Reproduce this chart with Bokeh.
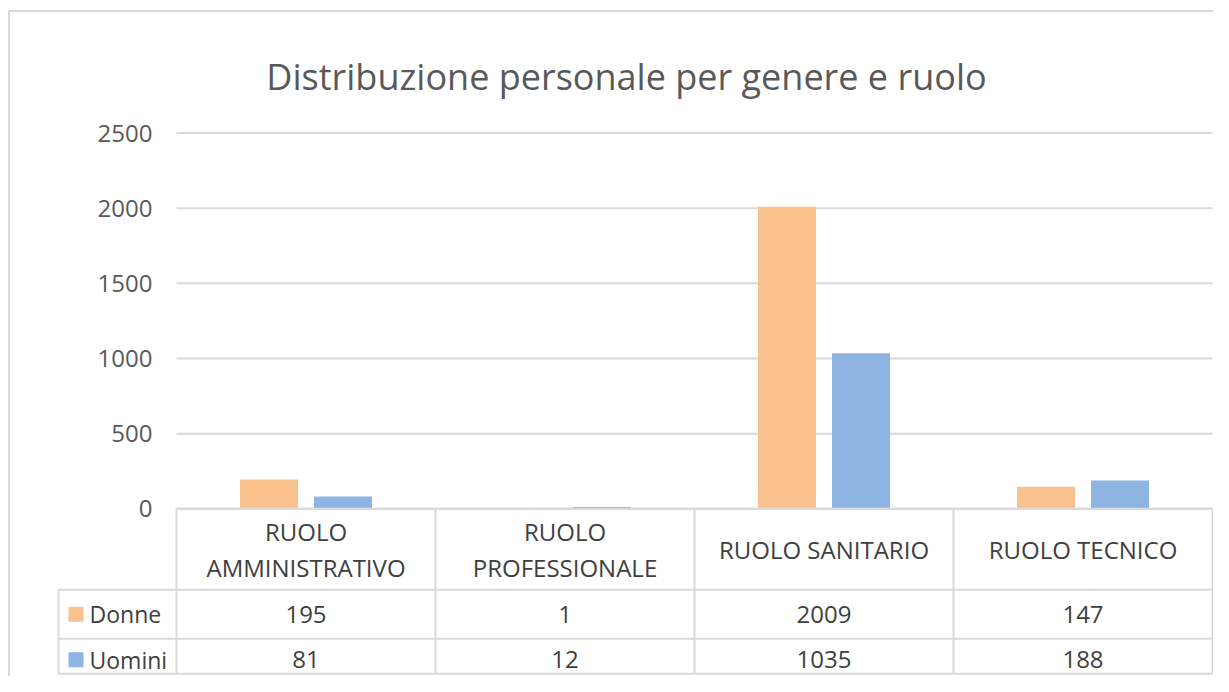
from bokeh.plotting import figure
from bokeh.models import Range1d, ColumnDataSource
from bokeh.core.properties import value
from bokeh.embed import file_html
from bokeh.resources import INLINE

# ---------------- data ----------------
chart_title = "Distribuzione personale per genere e ruolo"
categories = ["RUOLO\nAMMINISTRATIVO", "RUOLO\nPROFESSIONALE", "RUOLO SANITARIO", "RUOLO TECNICO"]
series_names = ["Donne", "Uomini"]
donne = [195, 1, 2009, 147]
uomini = [81, 12, 1035, 188]
y_ticks = [0, 500, 1000, 1500, 2000, 2500]
series_colors = ["#F9C18E", "#8EB4E3"]

# ---------------- layout (pixels) ----------------
W, H = 1213, 676
PX_PER_CAT = 259.0          # width of one category slot
X_ORIGIN = 176.0            # canvas x where category 0 starts
PX_PER_UNIT = 0.15032       # vertical pixels per value unit
Y_ORIGIN = 508.3            # canvas y of value 0

def dx(px):  # pixel offset -> x data units
    return px / PX_PER_CAT

def dy(px):  # pixel offset -> y data units
    return px / PX_PER_UNIT

def cx(canvas_x):
    return (canvas_x - X_ORIGIN) / PX_PER_CAT

def cy(canvas_y):
    return (Y_ORIGIN - canvas_y) / PX_PER_UNIT

FONT = value("Open Sans")
GRID = "#d9d9d9"
TXT = "#595959"
TXT2 = "#404040"

p = figure(width=W, height=H, output_backend="svg", toolbar_location=None,
           x_range=Range1d(cx(0), cx(W)), y_range=Range1d(cy(H), cy(0)),
           x_axis_location=None, y_axis_location=None, min_border=0,
           outline_line_color=None, background_fill_color="white",
           border_fill_color="white")
p.xgrid.visible = False
p.ygrid.visible = False

n = len(categories)
centers = [i + 0.5 for i in range(n)]

# outer chart border (top and left are visible)
p.segment(x0=[cx(8.5), cx(8.5)], y0=[cy(10.5), cy(10.5)], x1=[cx(W), cx(8.5)], y1=[cy(10.5), cy(H)],
          line_color=GRID, line_width=2)

# title
p.text(x=[cx(626)], y=[cy(76)], text=[chart_title], text_font=FONT, text_font_size="36px",
       text_color=TXT, text_align="center", text_baseline="alphabetic")

# gridlines
p.segment(x0=[0] * len(y_ticks), y0=y_ticks, x1=[n] * len(y_ticks), y1=y_ticks,
          line_color=GRID, line_width=2)

# y tick labels
p.text(x=[cx(152)] * len(y_ticks), y=y_ticks, text=[str(t) for t in y_ticks],
       text_font=FONT, text_font_size="24px", text_color=TXT,
       text_align="right", text_baseline="middle")

# bars
bar_w = dx(58)
off = dx(37)
src = ColumnDataSource(dict(xd=[c - off for c in centers], xu=[c + off for c in centers],
                            donne=donne, uomini=uomini))
p.vbar(x="xd", top="donne", bottom=0, width=bar_w, source=src,
       fill_color=series_colors[0], line_color=None)
p.vbar(x="xu", top="uomini", bottom=0, width=bar_w, source=src,
       fill_color=series_colors[1], line_color=None)

# data table
hdr_bot = -dy(81)
row1_bot = -dy(130)
row2_bot = -dy(165)
leg_left = -dx(118)
# horizontal lines
p.segment(x0=[0, leg_left, leg_left, leg_left], y0=[0, hdr_bot, row1_bot, row2_bot],
          x1=[n, n, n, n], y1=[0, hdr_bot, row1_bot, row2_bot],
          line_color=GRID, line_width=2)
# vertical lines
vx = list(range(n + 1))
p.segment(x0=vx, y0=[0] * len(vx), x1=vx, y1=[row2_bot] * len(vx),
          line_color=GRID, line_width=2)
p.segment(x0=[leg_left], y0=[hdr_bot], x1=[leg_left], y1=[row2_bot],
          line_color=GRID, line_width=2)

# header labels
p.text(x=centers, y=[hdr_bot / 2] * n, text=categories, text_font=FONT,
       text_font_size="24px", text_color=TXT2, text_align="center",
       text_baseline="middle", text_line_height=1.1)

# values
r1 = (hdr_bot + row1_bot) / 2
r2 = -dy(151)
p.text(x=centers, y=[r1] * n, text=[str(v) for v in donne], text_font=FONT,
       text_font_size="24px", text_color=TXT2, text_align="center", text_baseline="middle")
p.text(x=centers, y=[r2] * n, text=[str(v) for v in uomini], text_font=FONT,
       text_font_size="24px", text_color=TXT2, text_align="center", text_baseline="middle")

# legend keys in the table
p.scatter(x=[leg_left + dx(17.5)] * 2, y=[r1, r2], marker="square", size=15,
          fill_color=series_colors, line_color=None)
p.text(x=[leg_left + dx(31)] * 2, y=[r1, r2], text=series_names, text_font=FONT,
       text_font_size="23px", text_color=TXT2, text_align="left", text_baseline="middle")

open("out.html", "w").write(file_html(p, INLINE))
